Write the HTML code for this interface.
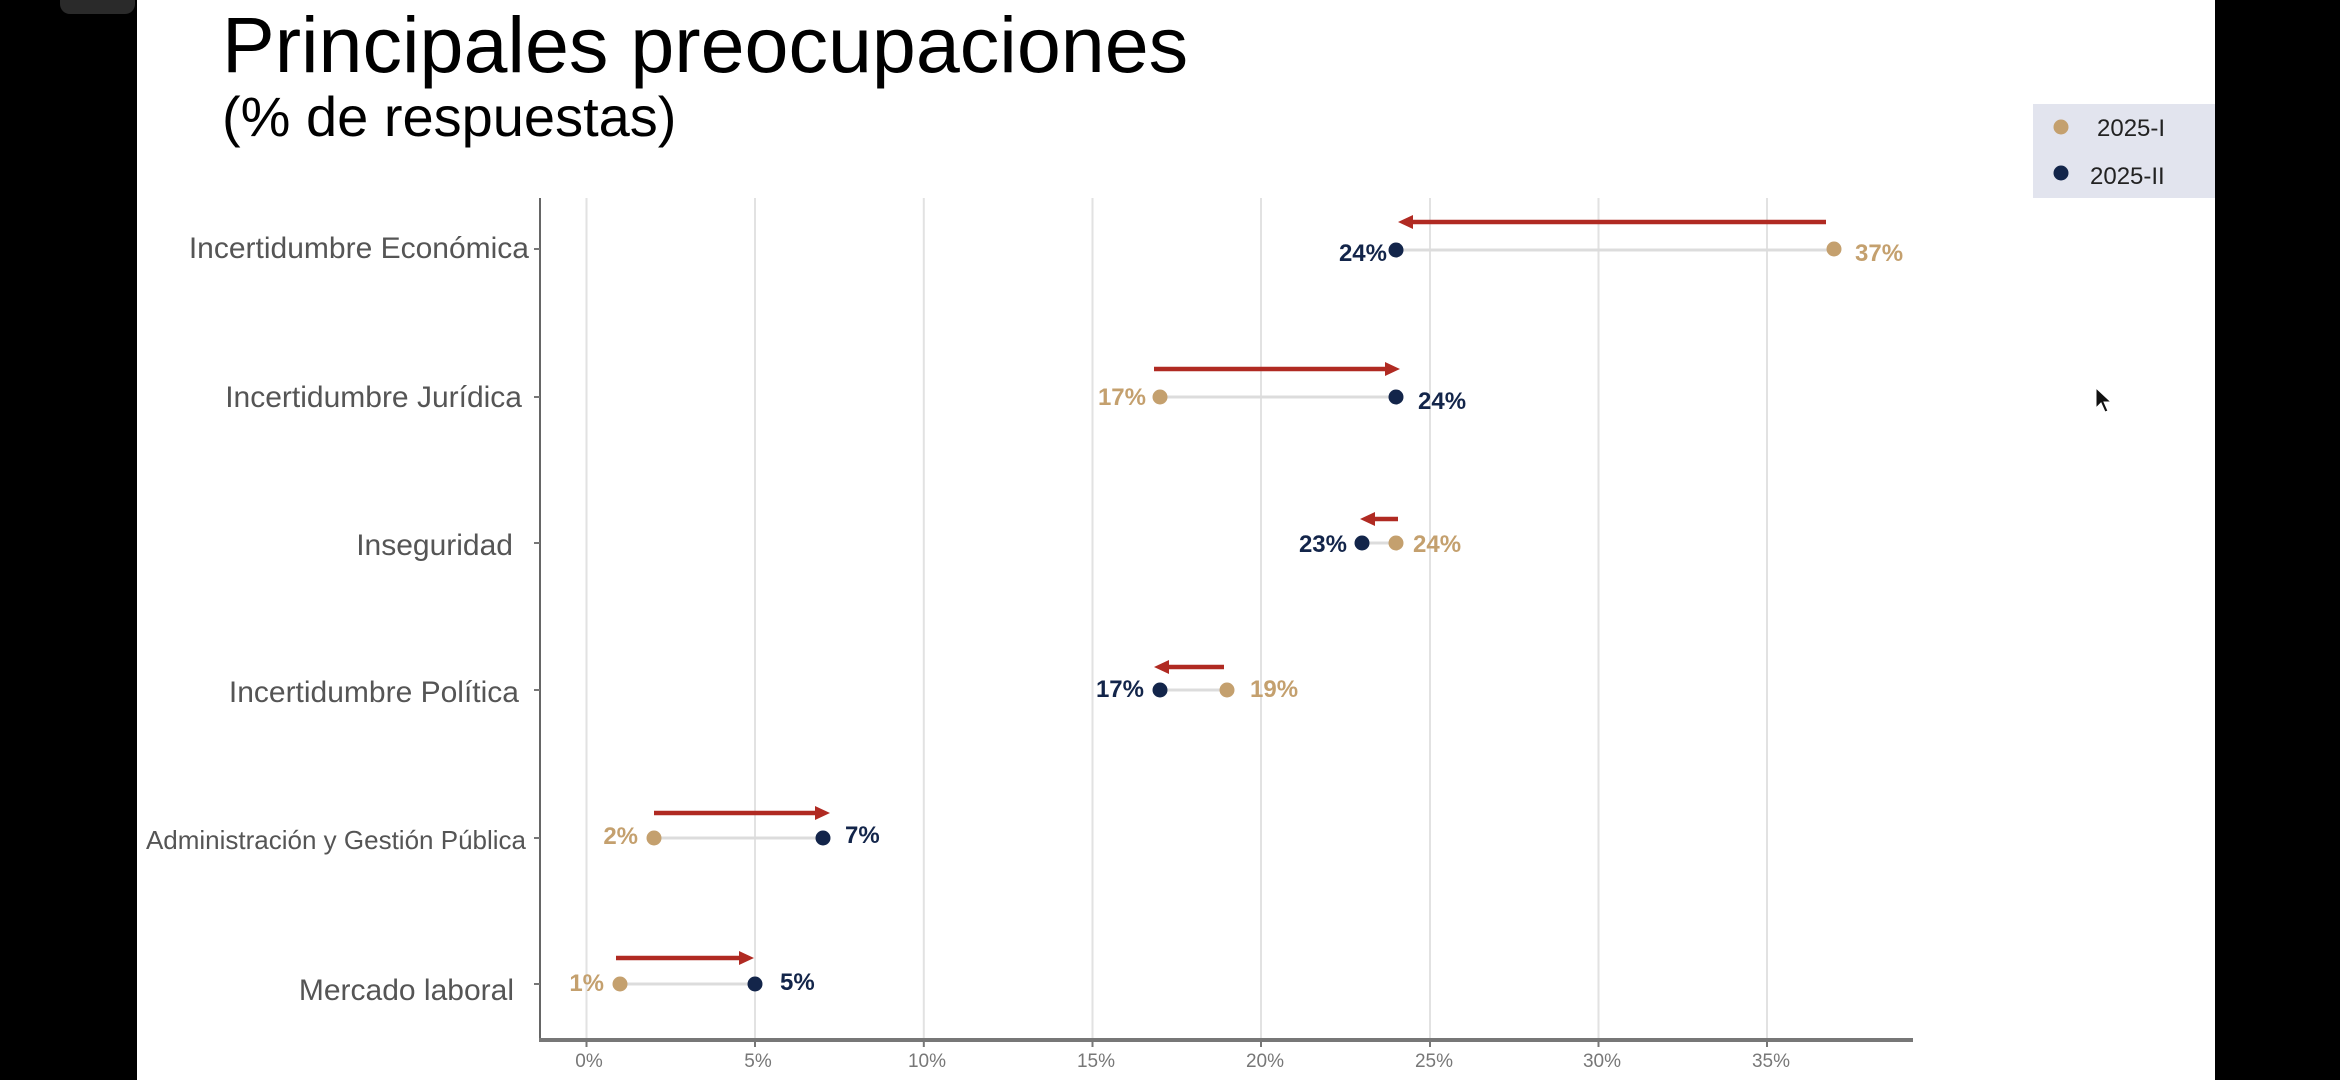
<!DOCTYPE html>
<html><head><meta charset="utf-8"><style>
html,body{margin:0;padding:0;background:#000;}
svg{display:block;}
text{font-family:"Liberation Sans",sans-serif;}
</style></head><body>
<svg width="2340" height="1080" viewBox="0 0 2340 1080" xmlns="http://www.w3.org/2000/svg">
<rect x="0" y="0" width="2340" height="1080" fill="#000"/>
<rect x="137" y="0" width="2078" height="1080" fill="#fff"/>
<rect x="60" y="-10" width="75" height="24" rx="10" fill="#2a2a2a"/>
<text x="222" y="72" font-size="79" fill="#000">Principales preocupaciones</text>
<text x="222" y="136" font-size="56" fill="#000">(% de respuestas)</text>
<!-- legend -->
<rect x="2033" y="104" width="182" height="94" fill="#e2e4ee"/>
<circle cx="2061" cy="127" r="7.5" fill="#c4a06e"/>
<text x="2097" y="136" font-size="24" fill="#222">2025-I</text>
<circle cx="2061" cy="173" r="7.5" fill="#13254a"/>
<text x="2090" y="184" font-size="24" fill="#222">2025-II</text>
<!-- gridlines -->
<g stroke="#e2e2e2" stroke-width="2">
<line x1="586.5" y1="198" x2="586.5" y2="1040"/>
<line x1="755" y1="198" x2="755" y2="1040"/>
<line x1="923.8" y1="198" x2="923.8" y2="1040"/>
<line x1="1092.5" y1="198" x2="1092.5" y2="1040"/>
<line x1="1261" y1="198" x2="1261" y2="1040"/>
<line x1="1430" y1="198" x2="1430" y2="1040"/>
<line x1="1598.5" y1="198" x2="1598.5" y2="1040"/>
<line x1="1767" y1="198" x2="1767" y2="1040"/>
</g>
<!-- axes -->
<line x1="540" y1="198" x2="540" y2="1040" stroke="#666" stroke-width="2"/>
<line x1="539" y1="1040" x2="1913" y2="1040" stroke="#777" stroke-width="4"/>
<g stroke="#777" stroke-width="2">
<line x1="534" y1="249" x2="540" y2="249"/><line x1="534" y1="397" x2="540" y2="397"/>
<line x1="534" y1="543" x2="540" y2="543"/><line x1="534" y1="690" x2="540" y2="690"/>
<line x1="534" y1="838" x2="540" y2="838"/><line x1="534" y1="984" x2="540" y2="984"/>
<line x1="586.5" y1="1040" x2="586.5" y2="1047"/><line x1="755" y1="1040" x2="755" y2="1047"/>
<line x1="923.8" y1="1040" x2="923.8" y2="1047"/><line x1="1092.5" y1="1040" x2="1092.5" y2="1047"/>
<line x1="1261" y1="1040" x2="1261" y2="1047"/><line x1="1430" y1="1040" x2="1430" y2="1047"/>
<line x1="1598.5" y1="1040" x2="1598.5" y2="1047"/><line x1="1767" y1="1040" x2="1767" y2="1047"/>
</g>
<g font-size="19" fill="#777" text-anchor="middle">
<text x="589" y="1067">0%</text><text x="758" y="1067">5%</text><text x="927" y="1067">10%</text>
<text x="1096" y="1067">15%</text><text x="1265" y="1067">20%</text><text x="1434" y="1067">25%</text>
<text x="1602" y="1067">30%</text><text x="1771" y="1067">35%</text>
</g>
<!-- category labels -->
<g font-size="30" fill="#555" text-anchor="end">
<text x="529" y="258">Incertidumbre Económica</text>
<text x="522" y="407">Incertidumbre Jurídica</text>
<text x="513" y="555">Inseguridad</text>
<text x="519" y="702">Incertidumbre Política</text>
<text x="526" y="849" font-size="26">Administración y Gestión Pública</text>
<text x="514" y="1000">Mercado laboral</text>
</g>
<!-- connectors -->
<g stroke="#dcdcdc" stroke-width="3">
<line x1="1396" y1="250" x2="1834" y2="250"/>
<line x1="1160" y1="397" x2="1396" y2="397"/>
<line x1="1362" y1="543" x2="1396" y2="543"/>
<line x1="1160" y1="690" x2="1227" y2="690"/>
<line x1="654" y1="838" x2="823" y2="838"/>
<line x1="620" y1="984" x2="755" y2="984"/>
</g>
<!-- arrows -->
<g stroke="#b02a22" stroke-width="4.5" fill="#b02a22">
<line x1="1826" y1="222" x2="1410" y2="222"/><polygon points="1398,222 1413,215 1413,229" stroke="none"/>
<line x1="1154" y1="369" x2="1388" y2="369"/><polygon points="1400,369 1385,362 1385,376" stroke="none"/>
<line x1="1398" y1="519" x2="1372" y2="519"/><polygon points="1360,519 1375,512 1375,526" stroke="none"/>
<line x1="1224" y1="667" x2="1166" y2="667"/><polygon points="1154,667 1169,660 1169,674" stroke="none"/>
<line x1="654" y1="813" x2="818" y2="813"/><polygon points="830,813 815,806 815,820" stroke="none"/>
<line x1="616" y1="958" x2="742" y2="958"/><polygon points="754,958 739,951 739,965" stroke="none"/>
</g>
<!-- dots -->
<g>
<circle cx="1834" cy="249" r="7.5" fill="#c4a06e"/><circle cx="1396" cy="250" r="7.5" fill="#13254a"/>
<circle cx="1160" cy="397" r="7.5" fill="#c4a06e"/><circle cx="1396" cy="397" r="7.5" fill="#13254a"/>
<circle cx="1396" cy="543" r="7.5" fill="#c4a06e"/><circle cx="1362" cy="543" r="7.5" fill="#13254a"/>
<circle cx="1227" cy="690" r="7.5" fill="#c4a06e"/><circle cx="1160" cy="690" r="7.5" fill="#13254a"/>
<circle cx="654" cy="838" r="7.5" fill="#c4a06e"/><circle cx="823" cy="838" r="7.5" fill="#13254a"/>
<circle cx="620" cy="984" r="7.5" fill="#c4a06e"/><circle cx="755" cy="984" r="7.5" fill="#13254a"/>
</g>
<g font-size="24" font-weight="bold">
<text x="1855" y="261" fill="#c4a06e">37%</text>
<text x="1387" y="261" fill="#13254a" text-anchor="end">24%</text>
<text x="1146" y="405" fill="#c4a06e" text-anchor="end">17%</text>
<text x="1418" y="409" fill="#13254a">24%</text>
<text x="1347" y="552" fill="#13254a" text-anchor="end">23%</text>
<text x="1413" y="552" fill="#c4a06e">24%</text>
<text x="1144" y="697" fill="#13254a" text-anchor="end">17%</text>
<text x="1250" y="697" fill="#c4a06e">19%</text>
<text x="638" y="844" fill="#c4a06e" text-anchor="end">2%</text>
<text x="845" y="843" fill="#13254a">7%</text>
<text x="604" y="991" fill="#c4a06e" text-anchor="end">1%</text>
<text x="780" y="990" fill="#13254a">5%</text>
</g>
<!-- cursor -->
<polygon points="2096,388 2096,408 2101,403 2105,412 2108,411 2104,402 2111,402" fill="#111" stroke="#fff" stroke-width="1"/>
</svg>
</body></html>
